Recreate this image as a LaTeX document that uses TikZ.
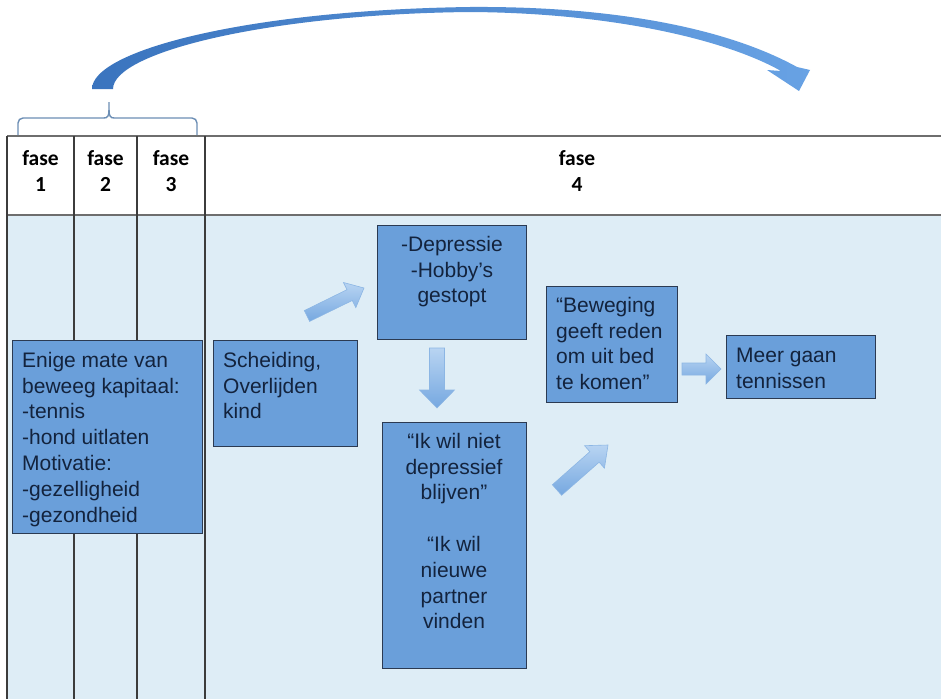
\documentclass[tikz,border=0pt]{standalone}
\usepackage{fontspec}
\setmainfont{Liberation Sans}
\newfontfamily\headfont{Carlito}
\usetikzlibrary{calc}

\definecolor{bodybg}{RGB}{222,237,246}
\definecolor{gridline}{RGB}{60,60,60}
\definecolor{rulegray}{RGB}{110,110,110}
\definecolor{boxfill}{RGB}{106,159,218}
\definecolor{boxline}{RGB}{43,58,82}
\definecolor{boxtext}{RGB}{19,35,61}
\definecolor{bracecol}{RGB}{108,142,181}
\definecolor{bigdark}{RGB}{58,116,190}
\definecolor{biglight}{RGB}{104,162,228}
\definecolor{arrlight}{RGB}{184,212,242}
\definecolor{arrdark}{RGB}{118,168,224}
\definecolor{arredge}{RGB}{140,182,228}

\tikzset{
  boxrect/.style={draw=boxline, line width=1.1pt, fill=boxfill, inner sep=0pt},
  boxtxt/.style={inner sep=0pt, text=boxtext, font=\fontsize{21}{25.8}\selectfont},
  headtxt/.style={inner sep=0pt, align=center, text=black,
    font=\headfont\bfseries\fontsize{21.5}{26}\selectfont},
  gridrule/.style={draw=gridline, line width=1.1pt},
  blockfill/.style={top color=arrlight, bottom color=arrdark, draw=arredge, line width=0.6pt},
  bracepath/.style={draw=bracecol, line width=1.4pt}
}

% block arrow from coordinate #1 to coordinate #2;
% #3 half shaft width, #4 half head width, #5 head length
\newcommand\blockarrow[5]{%
  \path let \p1=($(#2)-(#1)$) in \pgfextra{%
    \pgfmathsetmacro\bkang{atan2(\y1,\x1)}%
    \pgfmathsetmacro\bklen{veclen(\x1,\y1)}%
    \global\let\bkang\bkang \global\let\bklen\bklen};
  \begin{scope}[shift={(#1)}, rotate=\bkang]
    \shadedraw[blockfill] (0,-#3) -- ({\bklen-#5},-#3) -- ({\bklen-#5},-#4)
      -- (\bklen,0) -- ({\bklen-#5},#4) -- ({\bklen-#5},#3) -- (0,#3) -- cycle;
  \end{scope}}

\begin{document}
\begin{tikzpicture}[x=1pt,y=-1pt]
\useasboundingbox (0,0) rectangle (941,699);
\fill[white] (0,0) rectangle (941,699);

% table: white header row, light blue body
\fill[bodybg] (7,215) rectangle (941,699);
\draw[draw=rulegray, line width=1.3pt] (7,136) -- (941,136);
\draw[draw=rulegray, line width=1.3pt] (7,215) -- (941,215);
\foreach \cx in {7,74,137,205} {
  \draw[gridrule] (\cx,136) -- (\cx,699);
}

% phase headings
\node[headtxt, anchor=north] (f1) at (40.5,147) {\strut fase\\1};
\node[headtxt, anchor=north] (f2) at (105.5,147) {\strut fase\\2};
\node[headtxt, anchor=north] (f3) at (171,147) {\strut fase\\3};
\node[headtxt, anchor=north] (f4) at (577,147) {\strut fase\\4};

% brace over phases 1 to 3
\draw[bracepath, rounded corners=5pt] (18,135) -- (18,118) -- (104,118);
\draw[bracepath] (104,118) .. controls (107.5,118) and (109,116) .. (109,110) -- (109,102);
\draw[bracepath] (109,110) .. controls (109,116) and (110.5,118) .. (114,118);
\draw[bracepath, rounded corners=5pt] (114,118) -- (197,118) -- (197,135);

% large curved arrow from phases 1-3 to phase 4
\shade[left color=bigdark, right color=biglight]
  (92,89) .. controls (92,50) and (250,10) .. (470,7)
  .. controls (620,6) and (730,30) .. (797,67)
  -- (810,70) -- (799,91) -- (767,70) -- (781,71)
  .. controls (730,42) and (620,13) .. (470,12)
  .. controls (270,14) and (113,52) .. (113,89) -- cycle;

% boxes
\node[boxrect, minimum width=190pt, minimum height=193pt, anchor=north west] (capital) at (12,340) {};
\node[boxtxt, anchor=north west, align=left] (capitaltxt) at (22,349)
  {\strut Enige mate van\\beweeg kapitaal:\\-tennis\\-hond uitlaten\\Motivatie:\\-gezelligheid\\-gezondheid};

\node[boxrect, minimum width=144pt, minimum height=106pt, anchor=north west] (loss) at (213,340) {};
\node[boxtxt, anchor=north west, align=left] (losstxt) at (223,349)
  {\strut Scheiding,\\Overlijden\\kind};

\node[boxrect, minimum width=149pt, minimum height=114pt, anchor=north west] (depr) at (377,225) {};
\node[boxtxt, anchor=north, align=center] (deprtxt) at (452,233)
  {\strut -Depressie\\-Hobby’s\\gestopt};

\node[boxrect, minimum width=144pt, minimum height=246pt, anchor=north west] (wish) at (382,422) {};
\node[boxtxt, anchor=north, align=center] (wishtxt) at (454,430)
  {\strut “Ik wil niet\\depressief\\blijven”\\[25.8pt]“Ik wil\\nieuwe\\partner\\vinden};

\node[boxrect, minimum width=131pt, minimum height=116pt, anchor=north west] (reason) at (546,286) {};
\node[boxtxt, anchor=north west, align=left] (reasontxt) at (556,294)
  {\strut “Beweging\\geeft reden\\om uit bed\\te komen”};

\node[boxrect, minimum width=149pt, minimum height=63pt, anchor=north west] (tennis) at (726,335) {};
\node[boxtxt, anchor=north west, align=left] (tennistxt) at (736,344)
  {\strut Meer gaan\\tennissen};

% block arrows between the boxes
\coordinate (a1s) at (307,316);  \coordinate (a1e) at (364,288);
\coordinate (a2s) at (437,348);  \coordinate (a2e) at (437,408);
\coordinate (a3s) at (557,490);  \coordinate (a3e) at (608,445);
\coordinate (a4s) at (682,369);  \coordinate (a4e) at (721,369);
\blockarrow{a1s}{a1e}{6}{14}{16}
\blockarrow{a2s}{a2e}{7.5}{17.5}{18}
\blockarrow{a3s}{a3e}{7}{15}{18}
\blockarrow{a4s}{a4e}{6}{15}{15}
\end{tikzpicture}
\end{document}
